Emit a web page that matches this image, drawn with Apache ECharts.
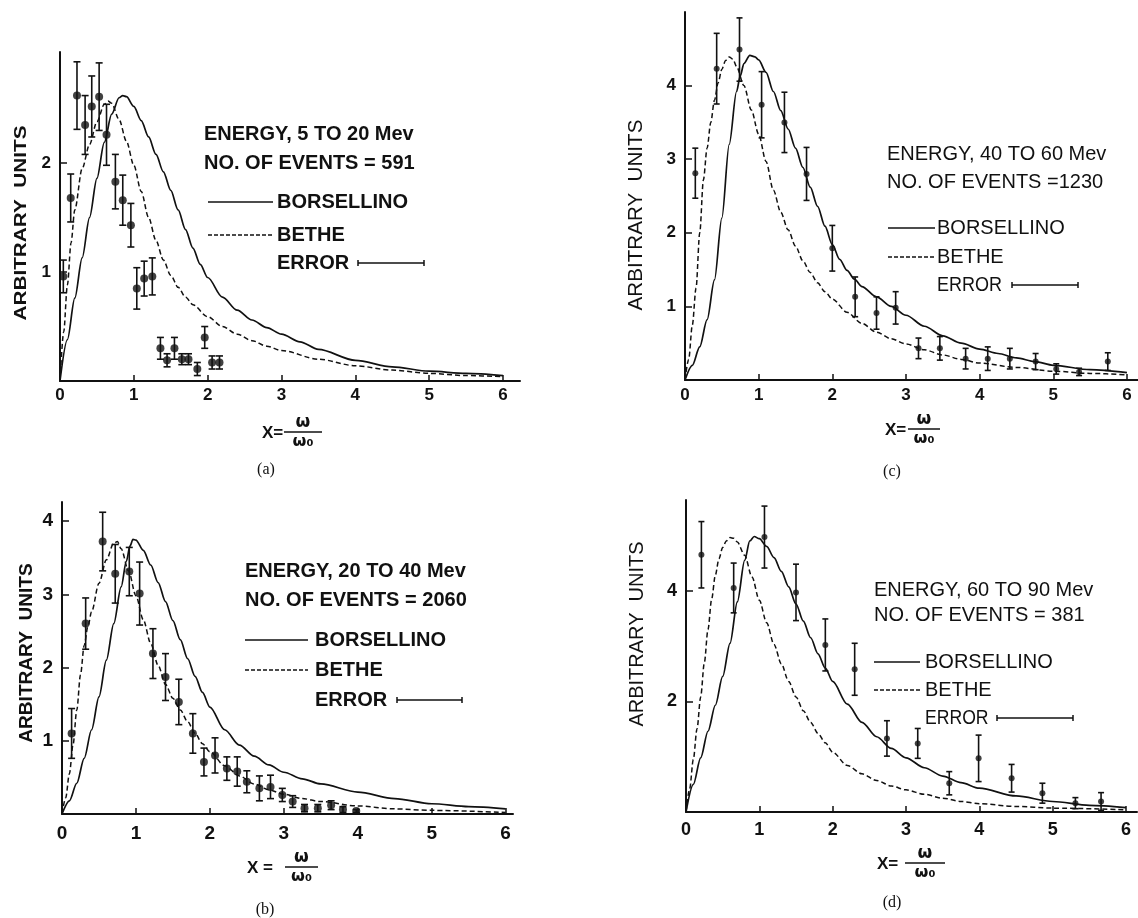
<!DOCTYPE html>
<html>
<head>
<meta charset="utf-8">
<script src="https://cdn.jsdelivr.net/npm/echarts@6.0.0/dist/echarts.min.js"></script>
<style>
  html, body { margin: 0; padding: 0; background: #fff; }
  #chart { width: 1138px; height: 918px; }
</style>
</head>
<body>
<div id="chart"></div>
<script>
// ---- tick labels ----
const xTickValues = [0, 1, 2, 3, 4, 5, 6];
const yTicksA = [1, 2];
const yTicksB = [1, 2, 3, 4];
const yTicksC = [1, 2, 3, 4];
const yTicksD = [2, 4];

// ---- panel texts ----
const panelLetters = ['(a)', '(b)', '(c)', '(d)'];
const energyLabels = ['ENERGY, 5 TO 20 Mev', 'ENERGY, 20 TO 40 Mev', 'ENERGY, 40 TO 60 Mev', 'ENERGY, 60 TO 90 Mev'];
const eventLabels = ['NO. OF EVENTS = 591', 'NO. OF EVENTS = 2060', 'NO. OF EVENTS =1230', 'NO. OF EVENTS = 381'];
const curveNames = ['BORSELLINO', 'BETHE'];
const errorLabel = 'ERROR';
const yAxisTitle = 'ARBITRARY  UNITS';
const xAxisLead = ['X=', 'X =', 'X=', 'X='];

// ---- (a) 5-20 Mev: theory curves [x, y] and measured points [x, y, error] ----
const borsellinoA = [[0,0],[0.1,0.38],[0.2,0.76],[0.3,1.13],[0.4,1.5],[0.5,1.86],[0.6,2.19],[0.7,2.45],[0.8,2.6],[0.85,2.62],[0.9,2.61],[1.0,2.52],[1.1,2.39],[1.2,2.24],[1.3,2.08],[1.4,1.92],[1.5,1.75],[1.6,1.57],[1.7,1.39],[1.8,1.22],[1.9,1.07],[2.0,0.95],[2.2,0.77],[2.4,0.65],[2.6,0.56],[2.8,0.49],[3.0,0.43],[3.25,0.36],[3.5,0.29],[4.0,0.19],[4.5,0.13],[5.0,0.09],[5.5,0.07],[6.0,0.05]];
const betheA = [[0,0],[0.05,0.45],[0.1,0.88],[0.15,1.27],[0.2,1.57],[0.3,1.95],[0.4,2.17],[0.5,2.38],[0.6,2.54],[0.65,2.57],[0.7,2.55],[0.8,2.4],[0.9,2.2],[1.0,1.98],[1.1,1.74],[1.2,1.5],[1.3,1.29],[1.4,1.11],[1.5,0.97],[1.6,0.86],[1.7,0.77],[1.8,0.7],[2.0,0.59],[2.2,0.5],[2.4,0.43],[2.6,0.37],[2.8,0.32],[3.0,0.28],[3.5,0.2],[4.0,0.14],[4.5,0.1],[5.0,0.07],[5.5,0.05],[6.0,0.04]];
const pointsA = [[0.045,0.96,0.15],[0.145,1.68,0.22],[0.23,2.62,0.31],[0.34,2.35,0.27],[0.43,2.52,0.28],[0.53,2.61,0.31],[0.63,2.26,0.28],[0.75,1.83,0.25],[0.85,1.66,0.23],[0.96,1.43,0.2],[1.04,0.85,0.19],[1.14,0.94,0.16],[1.25,0.96,0.17],[1.36,0.3,0.1],[1.45,0.19,0.06],[1.55,0.3,0.1],[1.65,0.2,0.05],[1.74,0.2,0.05],[1.86,0.11,0.06],[1.96,0.4,0.1],[2.06,0.17,0.06],[2.16,0.17,0.06]];

// ---- (b) 20-40 Mev ----
const borsellinoB = [[0,0],[0.1,0.18],[0.2,0.42],[0.3,0.76],[0.4,1.15],[0.5,1.6],[0.6,2.1],[0.7,2.6],[0.8,3.1],[0.87,3.45],[0.92,3.66],[0.96,3.75],[1.0,3.74],[1.1,3.6],[1.2,3.4],[1.3,3.16],[1.4,2.9],[1.5,2.64],[1.6,2.38],[1.7,2.12],[1.8,1.88],[1.9,1.66],[2.0,1.46],[2.2,1.15],[2.4,0.94],[2.6,0.79],[2.8,0.67],[3.0,0.57],[3.25,0.48],[3.5,0.41],[4.0,0.3],[4.5,0.21],[5.0,0.14],[5.5,0.1],[6.0,0.07]];
const betheB = [[0,0],[0.05,0.22],[0.1,0.55],[0.15,0.95],[0.2,1.42],[0.25,1.9],[0.3,2.3],[0.35,2.56],[0.4,2.76],[0.5,3.15],[0.6,3.47],[0.7,3.7],[0.75,3.72],[0.8,3.62],[0.9,3.32],[1.0,2.98],[1.1,2.65],[1.2,2.33],[1.3,2.03],[1.4,1.77],[1.5,1.58],[1.6,1.42],[1.7,1.26],[1.8,1.1],[1.9,0.96],[2.0,0.85],[2.2,0.66],[2.4,0.52],[2.6,0.41],[2.8,0.33],[3.0,0.27],[3.25,0.21],[3.5,0.17],[4.0,0.11],[4.5,0.07],[5.0,0.05],[6.0,0.02]];
const pointsB = [[0.13,1.1,0.34],[0.32,2.6,0.35],[0.55,3.72,0.4],[0.72,3.28,0.4],[0.91,3.31,0.33],[1.05,3.01,0.43],[1.23,2.19,0.34],[1.4,1.87,0.32],[1.58,1.53,0.31],[1.77,1.1,0.27],[1.92,0.71,0.19],[2.07,0.8,0.24],[2.23,0.62,0.16],[2.37,0.58,0.2],[2.5,0.44,0.15],[2.67,0.35,0.17],[2.82,0.37,0.16],[2.98,0.26,0.09],[3.12,0.17,0.08],[3.28,0.08,0.05],[3.46,0.08,0.05],[3.64,0.12,0.06],[3.8,0.06,0.04],[3.98,0.04,0.02]];

// ---- (c) 40-60 Mev ----
const borsellinoC = [[0,0],[0.1,0.2],[0.2,0.45],[0.3,0.82],[0.4,1.36],[0.5,2.2],[0.6,3.2],[0.7,3.92],[0.75,4.13],[0.8,4.3],[0.88,4.41],[0.95,4.39],[1.0,4.35],[1.1,4.18],[1.2,3.92],[1.3,3.66],[1.4,3.41],[1.5,3.15],[1.6,2.89],[1.7,2.62],[1.8,2.36],[1.9,2.09],[2.0,1.84],[2.1,1.64],[2.2,1.49],[2.3,1.37],[2.4,1.27],[2.6,1.13],[2.8,1.0],[3.0,0.88],[3.25,0.73],[3.5,0.6],[3.75,0.5],[4.0,0.42],[4.25,0.36],[4.5,0.3],[4.75,0.25],[5.0,0.2],[5.5,0.14],[6.0,0.1]];
const betheC = [[0,0],[0.05,0.28],[0.1,0.75],[0.15,1.25],[0.2,2.0],[0.25,2.72],[0.3,3.15],[0.35,3.5],[0.4,3.8],[0.45,4.04],[0.5,4.22],[0.55,4.34],[0.6,4.39],[0.65,4.36],[0.7,4.26],[0.8,4.0],[0.9,3.67],[1.0,3.34],[1.1,2.97],[1.2,2.58],[1.3,2.28],[1.4,2.04],[1.5,1.82],[1.6,1.62],[1.7,1.46],[1.8,1.32],[1.9,1.2],[2.0,1.1],[2.2,0.92],[2.4,0.77],[2.6,0.65],[2.8,0.56],[3.0,0.49],[3.25,0.41],[3.5,0.34],[3.75,0.28],[4.0,0.23],[4.5,0.17],[5.0,0.12],[5.5,0.09],[6.0,0.07]];
const pointsC = [[0.14,2.81,0.34],[0.43,4.23,0.48],[0.74,4.49,0.43],[1.04,3.74,0.45],[1.35,3.5,0.41],[1.65,2.8,0.36],[2.0,1.79,0.31],[2.31,1.13,0.27],[2.6,0.91,0.22],[2.86,0.98,0.22],[3.17,0.43,0.14],[3.46,0.43,0.16],[3.81,0.29,0.14],[4.11,0.29,0.16],[4.41,0.29,0.14],[4.76,0.25,0.11],[5.04,0.15,0.07],[5.35,0.11,0.05],[5.74,0.25,0.12]];

// ---- (d) 60-90 Mev ----
const borsellinoD = [[0,0],[0.1,0.5],[0.2,0.98],[0.3,1.46],[0.4,1.93],[0.5,2.45],[0.6,3.05],[0.7,3.8],[0.8,4.55],[0.87,4.9],[0.93,4.98],[1.0,4.94],[1.1,4.8],[1.2,4.6],[1.3,4.35],[1.4,4.07],[1.5,3.76],[1.6,3.45],[1.7,3.15],[1.8,2.86],[1.9,2.6],[2.0,2.36],[2.2,1.95],[2.4,1.62],[2.6,1.36],[2.8,1.15],[3.0,0.98],[3.25,0.8],[3.5,0.65],[3.75,0.53],[4.0,0.43],[4.5,0.29],[5.0,0.19],[5.5,0.12],[6.0,0.08]];
const betheD = [[0,0],[0.05,0.42],[0.1,0.95],[0.15,1.5],[0.2,2.08],[0.25,2.7],[0.3,3.3],[0.35,3.85],[0.4,4.28],[0.45,4.58],[0.5,4.78],[0.55,4.9],[0.6,4.96],[0.65,4.95],[0.7,4.88],[0.8,4.64],[0.9,4.25],[1.0,3.83],[1.1,3.42],[1.2,3.03],[1.3,2.68],[1.4,2.36],[1.5,2.08],[1.6,1.83],[1.7,1.62],[1.8,1.42],[1.9,1.25],[2.0,1.08],[2.2,0.84],[2.4,0.69],[2.6,0.57],[2.8,0.47],[3.0,0.4],[3.25,0.32],[3.5,0.25],[3.75,0.19],[4.0,0.15],[4.5,0.1],[5.0,0.07],[6.0,0.04]];
const pointsD = [[0.21,4.65,0.6],[0.65,4.05,0.45],[1.07,4.97,0.56],[1.5,3.97,0.51],[1.9,3.02,0.47],[2.3,2.58,0.47],[2.74,1.33,0.32],[3.16,1.24,0.27],[3.59,0.52,0.21],[3.99,0.97,0.42],[4.44,0.61,0.25],[4.86,0.34,0.18],[5.31,0.16,0.1],[5.66,0.19,0.16]];

// ---- page layout of the four panels ----
const INK = '#111';
const SANS = "'Liberation Sans', Arial, sans-serif";
const SERIF = "'Liberation Serif', 'DejaVu Serif', serif";

const panels = [
  { grid: {left: 60, top: 52, width: 460, height: 329}, xMax: 6.23, yMax: 3.02, yTicks: yTicksA,
    bors: borsellinoA, bethe: betheA, points: pointsA, weight: 'bold', dot: 8, cap: 3.5, tickFont: 17, xMargin: 6,
    leg: {x: 204, y1: 134, y2: 163, lx1: 208, lx2: 273, yB: 202, yH: 235, tx: 277, yE: 263, ex1: 358, ex2: 424, errScale: 1},
    yTitle: {x: 21, y: 223, size: 17, stretch: 1.22}, xTitle: {x: 262, y: 433, b1: 284, b2: 322}, cap2: {x: 266, y: 470} },
  { grid: {left: 62, top: 502, width: 451, height: 312}, xMax: 6.1, yMax: 4.26, yTicks: yTicksB,
    bors: borsellinoB, bethe: betheB, points: pointsB, weight: 'bold', dot: 8, cap: 3.5, tickFont: 19, xMargin: 10,
    leg: {x: 245, y1: 571, y2: 600, lx1: 245, lx2: 308, yB: 640, yH: 670, tx: 315, yE: 700, ex1: 397, ex2: 462, errScale: 1},
    yTitle: {x: 27, y: 653, size: 18, stretch: 1.06}, xTitle: {x: 247, y: 868, b1: 285, b2: 318}, cap2: {x: 265, y: 910} },
  { grid: {left: 685, top: 12, width: 453, height: 368}, xMax: 6.15, yMax: 5.0, yTicks: yTicksC,
    bors: borsellinoC, bethe: betheC, points: pointsC, weight: 'normal', dot: 6, cap: 3, tickFont: 17, xMargin: 7,
    leg: {x: 887, y1: 154, y2: 182, lx1: 888, lx2: 935, yB: 228, yH: 257, tx: 937, yE: 285, ex1: 1012, ex2: 1078, errScale: 0.9},
    yTitle: {x: 636, y: 215, size: 20, stretch: 1.03}, xTitle: {x: 885, y: 430, b1: 908, b2: 940}, cap2: {x: 892, y: 472} },
  { grid: {left: 686, top: 500, width: 451, height: 312}, xMax: 6.15, yMax: 5.64, yTicks: yTicksD,
    bors: borsellinoD, bethe: betheD, points: pointsD, weight: 'normal', dot: 6, cap: 3, tickFont: 18, xMargin: 9,
    leg: {x: 874, y1: 590, y2: 615, lx1: 874, lx2: 920, yB: 662, yH: 690, tx: 925, yE: 718, ex1: 997, ex2: 1073, errScale: 0.88},
    yTitle: {x: 637, y: 634, size: 20, stretch: 1.0}, xTitle: {x: 877, y: 864, b1: 905, b2: 945}, cap2: {x: 892, y: 903} }
];

const grids = [], xAxes = [], yAxes = [], series = [], graphics = [];

// vertical error bar with short caps, placed through the axis scales
function errorBarRenderer(capHalf) {
  return function (params, api) {
    const x = api.value(0), y = api.value(1), e = api.value(2);
    const top = api.coord([x, y + e]);
    const bot = api.coord([x, Math.max(0, y - e)]);
    const st = {stroke: INK, lineWidth: 1.6};
    return {
      type: 'group',
      children: [
        {type: 'line', shape: {x1: top[0], y1: top[1], x2: bot[0], y2: bot[1]}, style: st},
        {type: 'line', shape: {x1: top[0] - capHalf, y1: top[1], x2: top[0] + capHalf, y2: top[1]}, style: st},
        {type: 'line', shape: {x1: bot[0] - capHalf, y1: bot[1], x2: bot[0] + capHalf, y2: bot[1]}, style: st}
      ]
    };
  };
}

function txt(x, y, text, size, weight, extra, props) {
  return Object.assign({
    type: 'text', x: x, y: y, silent: true,
    style: Object.assign({text: text, fill: INK, font: weight + ' ' + size + 'px ' + SANS,
      textAlign: 'left', textVerticalAlign: 'middle'}, extra || {})
  }, props || {});
}
function seg(x1, y1, x2, y2, w, dash) {
  return {type: 'line', silent: true, shape: {x1: x1, y1: y1, x2: x2, y2: y2},
    style: {stroke: INK, lineWidth: w, lineDash: dash || null}};
}

panels.forEach(function (p, i) {
  grids.push(Object.assign({containLabel: false}, p.grid));
  xAxes.push({
    type: 'value', gridIndex: i, min: 0, max: p.xMax,
    axisLine: {show: true, onZero: false, lineStyle: {color: INK, width: 2}},
    axisTick: {show: true, inside: true, length: 6, lineStyle: {color: INK, width: 1.5}, customValues: [1, 2, 3, 4, 5, 6]},
    axisLabel: {customValues: xTickValues, margin: p.xMargin, color: INK, fontSize: p.tickFont, fontWeight: 'bold', fontFamily: SANS},
    splitLine: {show: false}
  });
  yAxes.push({
    type: 'value', gridIndex: i, min: 0, max: p.yMax,
    axisLine: {show: true, onZero: false, lineStyle: {color: INK, width: 2}},
    axisTick: {show: true, inside: true, length: 7, lineStyle: {color: INK, width: 1.5}, customValues: p.yTicks},
    axisLabel: {customValues: p.yTicks, margin: 9, color: INK, fontSize: p.tickFont, fontWeight: 'bold', fontFamily: SANS},
    splitLine: {show: false}
  });
  series.push({
    name: curveNames[0], type: 'line', xAxisIndex: i, yAxisIndex: i, data: p.bors,
    showSymbol: false, smooth: 0.3, smoothMonotone: 'x', silent: true,
    lineStyle: {color: INK, width: 1.7}
  });
  series.push({
    name: curveNames[1], type: 'line', xAxisIndex: i, yAxisIndex: i, data: p.bethe,
    showSymbol: false, smooth: 0.3, smoothMonotone: 'x', silent: true,
    lineStyle: {color: INK, width: 1.5, type: [5, 3]}
  });
  series.push({
    type: 'custom', xAxisIndex: i, yAxisIndex: i, data: p.points,
    encode: {x: 0, y: 1}, renderItem: errorBarRenderer(p.cap), silent: true, z: 3
  });
  series.push({
    type: 'scatter', xAxisIndex: i, yAxisIndex: i, data: p.points.map(function (d) { return [d[0], d[1]]; }),
    symbol: 'circle', symbolSize: p.dot, itemStyle: {color: INK}, silent: true, z: 4
  });

  // legend block
  const L = p.leg, w = p.weight;
  graphics.push(txt(L.x, L.y1, energyLabels[i], 20, w));
  graphics.push(txt(L.x, L.y2, eventLabels[i], 20, w));
  graphics.push(seg(L.lx1, L.yB, L.lx2, L.yB, 1.6));
  graphics.push(txt(L.tx, L.yB, curveNames[0], 20, w));
  graphics.push(seg(L.lx1, L.yH, L.lx2, L.yH, 1.5, [4, 2]));
  graphics.push(txt(L.tx, L.yH, curveNames[1], 20, w));
  graphics.push(txt(L.tx, L.yE, errorLabel, 20, w, null, {scaleX: L.errScale}));
  graphics.push(seg(L.ex1, L.yE, L.ex2, L.yE, 1.5));
  graphics.push(seg(L.ex1, L.yE - 3, L.ex1, L.yE + 3, 1.5));
  graphics.push(seg(L.ex2, L.yE - 3, L.ex2, L.yE + 3, 1.5));

  // vertical axis title, reading bottom to top
  graphics.push({
    type: 'text', x: p.yTitle.x, y: p.yTitle.y, rotation: Math.PI / 2, scaleX: p.yTitle.stretch, silent: true,
    style: {text: yAxisTitle, fill: INK, font: w + ' ' + p.yTitle.size + 'px ' + SANS, textAlign: 'center', textVerticalAlign: 'middle'}
  });

  // horizontal axis title  X = ω / ω0
  const X = p.xTitle, mid = (X.b1 + X.b2) / 2;
  graphics.push(txt(X.x, X.y, xAxisLead[i], 17, 'bold'));
  graphics.push(seg(X.b1, X.y - 1, X.b2, X.y - 1, 1.5));
  graphics.push(txt(mid, X.y - 10, 'ω', 17, 'bold', {textAlign: 'center', font: 'bold 17px DejaVu Sans'}));
  graphics.push(txt(mid, X.y + 9, 'ω₀', 17, 'bold', {textAlign: 'center', font: 'bold 16px DejaVu Sans'}));

  // panel caption
  graphics.push({
    type: 'text', x: p.cap2.x, y: p.cap2.y, silent: true,
    style: {text: panelLetters[i], fill: INK, font: '16px ' + SERIF, textAlign: 'center', textVerticalAlign: 'middle'}
  });
});

const chart = echarts.init(document.getElementById('chart'), null, {renderer: 'canvas'});
chart.setOption({
  backgroundColor: '#ffffff',
  animation: false,
  grid: grids,
  xAxis: xAxes,
  yAxis: yAxes,
  series: series,
  graphic: graphics
});
</script>
</body>
</html>
